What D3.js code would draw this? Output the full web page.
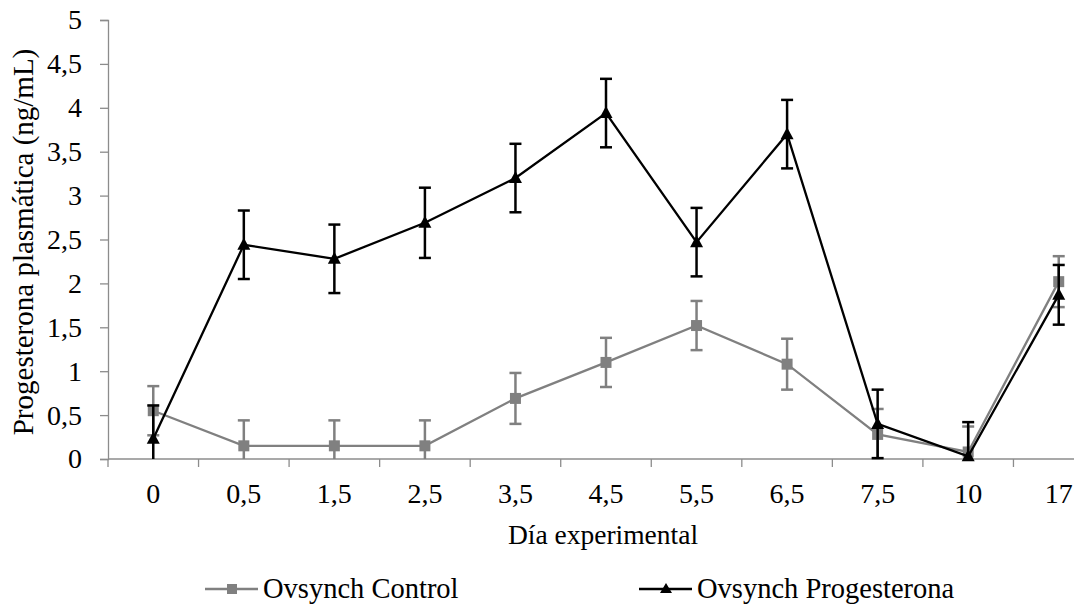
<!DOCTYPE html>
<html>
<head>
<meta charset="utf-8">
<script src="https://cdn.jsdelivr.net/npm/d3@7"></script>
<style>
  html, body { margin: 0; padding: 0; background: #fff; }
  svg { display: block; }
  text { font-family: "Liberation Serif", "Times New Roman", serif; fill: #000; }
</style>
</head>
<body>
<svg id="chart" width="1074" height="605"></svg>
<script>
// Experimental days (categorical axis)
const days = ["0", "0,5", "1,5", "2,5", "3,5", "4,5", "5,5", "6,5", "7,5", "10", "17"];

// Plasma progesterone (ng/mL), mean and standard error
const controlMean = [0.55, 0.15, 0.15, 0.15, 0.69, 1.10, 1.52, 1.08, 0.28, 0.08, 2.02];
const controlErr  = [0.28, 0.29, 0.29, 0.29, 0.29, 0.28, 0.28, 0.29, 0.29, 0.29, 0.29];
const progMean    = [0.23, 2.44, 2.28, 2.69, 3.20, 3.94, 2.47, 3.70, 0.40, 0.03, 1.87];
const progErr     = [0.38, 0.39, 0.39, 0.40, 0.39, 0.39, 0.39, 0.39, 0.39, 0.39, 0.34];

const yTicks = [0, 0.5, 1, 1.5, 2, 2.5, 3, 3.5, 4, 4.5, 5];

const seriesNames = ["Ovsynch Control", "Ovsynch Progesterona"];

const svg = d3.select("#chart");
const plotLeft = 108, plotTop = 20, plotBottom = 459, plotRight = 1104;

const x = d3.scaleBand().domain(days).range([plotLeft, plotRight]).padding(0);
const y = d3.scaleLinear().domain([0, 5]).range([plotBottom, plotTop]);
const cx = d => x(d) + x.bandwidth() / 2;
const fmt = v => String(v).replace(".", ",");

const axisColor = "#8c8c8c";
const grey = "#808080";

// Y axis
const yAxis = svg.append("g").attr("transform", `translate(${plotLeft},0)`)
  .call(d3.axisLeft(y).tickValues(yTicks).tickSize(8).tickPadding(18).tickFormat(fmt));
yAxis.select(".domain").attr("stroke", axisColor).attr("stroke-width", 1.3);
yAxis.selectAll(".tick line").attr("stroke", axisColor).attr("stroke-width", 1.3);
yAxis.selectAll("text").attr("font-size", 28).attr("font-family", "Liberation Serif");

// X axis: ticks sit between categories
const xAxisG = svg.append("g").attr("transform", `translate(0,${plotBottom})`);
xAxisG.append("line").attr("x1", plotLeft).attr("x2", plotRight)
  .attr("stroke", axisColor).attr("stroke-width", 1.3);
const boundaries = days.map(d => x(d)).concat([x(days[days.length - 1]) + x.bandwidth()]);
xAxisG.selectAll("line.tk").data(boundaries).enter().append("line")
  .attr("class", "tk").attr("x1", d => d).attr("x2", d => d)
  .attr("y1", 0).attr("y2", 8).attr("stroke", axisColor).attr("stroke-width", 1.3);
xAxisG.selectAll("text").data(days).enter().append("text")
  .attr("x", d => cx(d)).attr("y", 44).attr("text-anchor", "middle")
  .attr("font-size", 28).text(d => d);

// Axis titles
svg.append("text").attr("x", 603).attr("y", 544).attr("text-anchor", "middle")
  .attr("font-size", 27.5).text("Día experimental");
svg.append("text").attr("transform", "translate(33,242) rotate(-90)")
  .attr("text-anchor", "middle").attr("font-size", 29)
  .text("Progesterona plasmática (ng/mL)");

const line = d3.line().x((d, i) => cx(days[i])).y(d => y(d));
const capW = 6;

function drawSeries(mean, err, color, marker) {
  const g = svg.append("g");
  // error bars
  mean.forEach((m, i) => {
    const xc = cx(days[i]);
    const lo = Math.max(0, m - err[i]), hi = m + err[i];
    g.append("line").attr("x1", xc).attr("x2", xc).attr("y1", y(lo)).attr("y2", y(hi))
      .attr("stroke", color).attr("stroke-width", 2.5);
    g.append("line").attr("x1", xc - capW).attr("x2", xc + capW).attr("y1", y(hi)).attr("y2", y(hi))
      .attr("stroke", color).attr("stroke-width", 2.5);
    if (m - err[i] > 0) {
      g.append("line").attr("x1", xc - capW).attr("x2", xc + capW).attr("y1", y(lo)).attr("y2", y(lo))
        .attr("stroke", color).attr("stroke-width", 2.5);
    }
  });
  g.append("path").datum(mean).attr("d", line).attr("fill", "none")
    .attr("stroke", color).attr("stroke-width", 2.3);
  mean.forEach((m, i) => {
    const xc = cx(days[i]), yc = y(m);
    if (marker === "square") {
      g.append("rect").attr("x", xc - 5.5).attr("y", yc - 5.5).attr("width", 11).attr("height", 11)
        .attr("fill", color);
    } else {
      g.append("path").attr("d", `M${xc},${yc - 7}L${xc + 6.5},${yc + 5}L${xc - 6.5},${yc + 5}Z`)
        .attr("fill", color);
    }
  });
}

drawSeries(controlMean, controlErr, grey, "square");
drawSeries(progMean, progErr, "#000000", "triangle");

// Legend
const legend = [
  { name: seriesNames[0], color: grey, marker: "square", x: 205 },
  { name: seriesNames[1], color: "#000000", marker: "triangle", x: 639 }
];
legend.forEach(l => {
  const ly = 589;
  svg.append("line").attr("x1", l.x).attr("x2", l.x + 53).attr("y1", ly).attr("y2", ly)
    .attr("stroke", l.color).attr("stroke-width", 2.3);
  const mx = l.x + 27;
  if (l.marker === "square") {
    svg.append("rect").attr("x", mx - 5).attr("y", ly - 5).attr("width", 10).attr("height", 10).attr("fill", l.color);
  } else {
    svg.append("path").attr("d", `M${mx},${ly - 6}L${mx + 6},${ly + 4}L${mx - 6},${ly + 4}Z`).attr("fill", l.color);
  }
  svg.append("text").attr("x", l.x + 58).attr("y", 598).attr("font-size", 28.5)
    .text(l.name);
});
</script>
</body>
</html>
